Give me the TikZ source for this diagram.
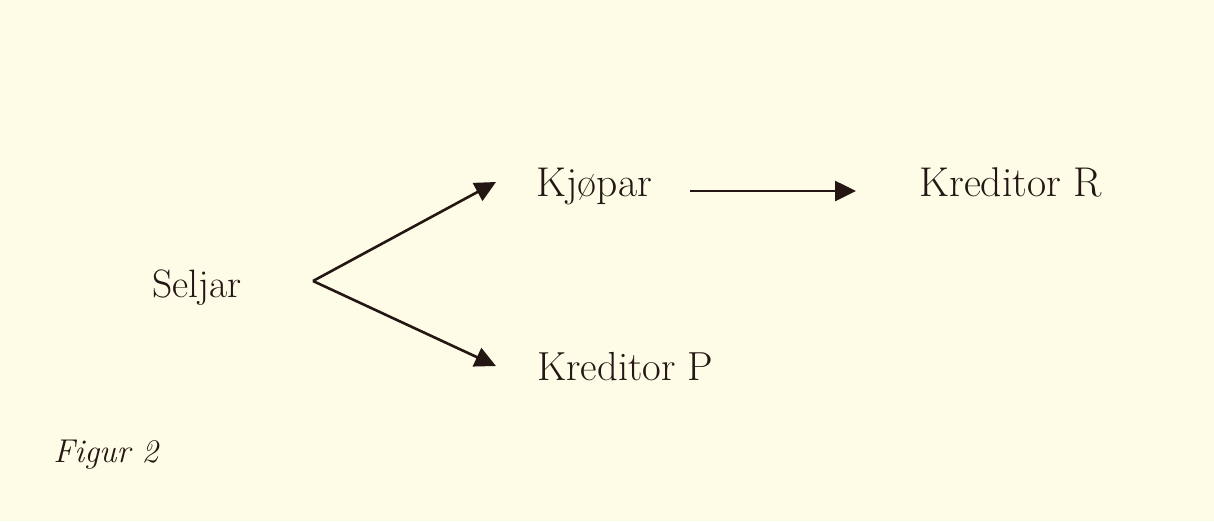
\documentclass[tikz,border=0pt]{standalone}
\usetikzlibrary{arrows.meta}
\definecolor{bg}{RGB}{254,251,231}
\definecolor{ink}{RGB}{36,22,18}
\begin{document}
\begin{tikzpicture}[x=0.5pt,y=-0.5pt,
  lbl/.style={anchor=base west,inner sep=0pt,text=ink,font=\fontsize{20.8}{25}\selectfont},
  arr/.style={draw=ink,line width=1.3pt,-{Triangle[length=10.5pt,width=10pt]}}]
\fill[bg] (0,0) rectangle (1214,521);
\useasboundingbox (0,0) rectangle (1214,521);
\node[lbl,font=\fontsize{19.8}{24}\selectfont] (seljar) at (152,297) {Seljar};
\node[lbl] (kjopar) at (536,196) {Kjøpar};
\node[lbl] (kredR) at (919,196) {Kreditor R};
\node[lbl,font=\fontsize{20.3}{24}\selectfont] (kredP) at (537,380) {Kreditor P};
\node[anchor=base west,inner sep=0pt,text=ink,font=\fontsize{16.5}{20}\selectfont\itshape] (fig) at (53,462) {Figur 2};
\coordinate (v) at (313,281);
\coordinate (t1) at (496,182);
\coordinate (t2) at (496,366);
\coordinate (h1) at (690,191);
\coordinate (h2) at (856,191);
\draw[arr] (v) -- (t1);
\draw[arr] (v) -- (t2);
\draw[arr] (h1) -- (h2);
\end{tikzpicture}
\end{document}
